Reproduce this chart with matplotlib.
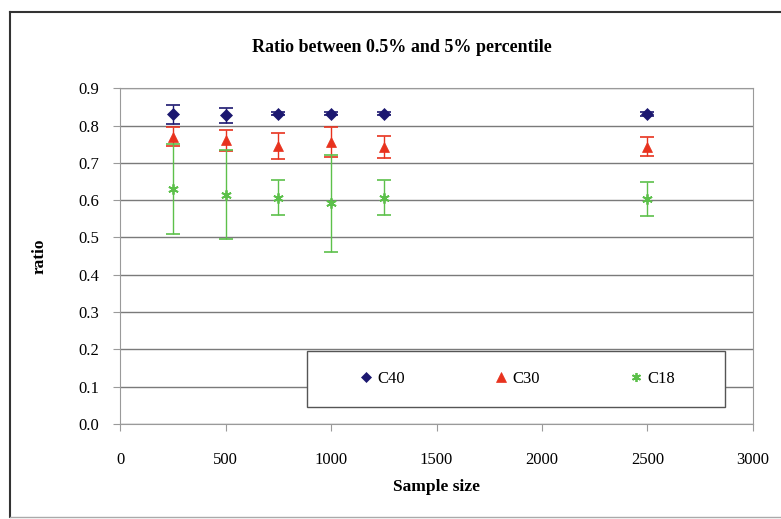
import matplotlib.pyplot as plt
from matplotlib.lines import Line2D
from matplotlib.patches import Rectangle

plt.rcParams['font.family'] = ['Liberation Serif', 'DejaVu Serif']

sizes = [250, 500, 750, 1000, 1250, 2500]

c40 = [0.830, 0.828, 0.832, 0.832, 0.832, 0.830]
c40_err = [0.025, 0.020, 0.005, 0.005, 0.005, 0.005]

c30 = [0.770, 0.760, 0.745, 0.755, 0.742, 0.743]
c30_err = [0.025, 0.028, 0.035, 0.040, 0.030, 0.025]

c18 = [0.630, 0.615, 0.607, 0.592, 0.607, 0.603]
c18_err = [0.120, 0.120, 0.047, 0.130, 0.047, 0.045]

star = (6, 2, 0)
series = [
    ("C40", c40, c40_err, "#1c1870", "D", 6.5, 0.5),
    ("C30", c30, c30_err, "#e8321e", "^", 7.5, 0.5),
    ("C18", c18, c18_err, "#5cc04a", star, 7.5, 1.3),
]

fig = plt.figure(figsize=(7.81, 5.19), dpi=100)
ax = fig.add_axes([0.154, 0.183, 0.810, 0.647])

handles = []
for name, vals, err, col, mk, ms, mew in series:
    ax.errorbar(sizes, vals, yerr=err, fmt='none', ecolor=col,
                capsize=5, elinewidth=1, capthick=1.2, zorder=3)
    ax.plot(sizes, vals, linestyle='none', marker=mk, color=col,
            markersize=ms, markeredgewidth=mew, zorder=4)
    handles.append(Line2D([], [], marker=mk, color=col, linestyle='none',
                          markersize=ms - 1, markeredgewidth=mew))

ax.set_xlim(0, 3000)
ax.set_ylim(0, 0.9)
ax.set_xticks(range(0, 3001, 500))
ax.set_yticks([i / 10 for i in range(10)])
ax.set_yticklabels(["%.1f" % (i / 10) for i in range(10)])
ax.yaxis.grid(True, color="#7a7a7a", linewidth=1)
ax.set_axisbelow(True)
for s in ax.spines.values():
    s.set_color("#9a9a9a")
ax.tick_params(axis='x', direction='out', length=5, pad=15, labelsize=12, color="#9a9a9a")
ax.tick_params(axis='y', direction='out', length=5, pad=10, labelsize=12, color="#9a9a9a")

ax.set_xlabel("Sample size", fontsize=12.5, fontweight='bold', labelpad=8)
ax.set_ylabel("ratio", fontsize=12.5, fontweight='bold', labelpad=22)
fig.text(0.515, 0.909, "Ratio between 0.5% and 5% percentile",
         fontsize=13, fontweight='bold', ha='center', va='center')

# legend box (white, covers gridline)
ax.add_patch(Rectangle((0.295, 0.05), 0.661, 0.167, transform=ax.transAxes,
                       facecolor='white', edgecolor='#555555', linewidth=1, zorder=5))
leg = ax.legend(handles, ["C40", "C30", "C18"], ncol=3, loc='center',
                bbox_to_anchor=(0.626, 0.134), frameon=False, fontsize=12,
                handletextpad=0.15, handlelength=1.0, columnspacing=5.3)
leg.set_zorder(6)

# outer chart border
fig.add_artist(Line2D([0.013, 0.013], [0.003, 0.977], color="#333333", lw=1.5))
fig.add_artist(Line2D([0.013, 1.0], [0.977, 0.977], color="#333333", lw=1.5))
fig.add_artist(Line2D([0.013, 1.0], [0.004, 0.004], color="#aaaaaa", lw=1))

fig.savefig("out.png", dpi=100)
